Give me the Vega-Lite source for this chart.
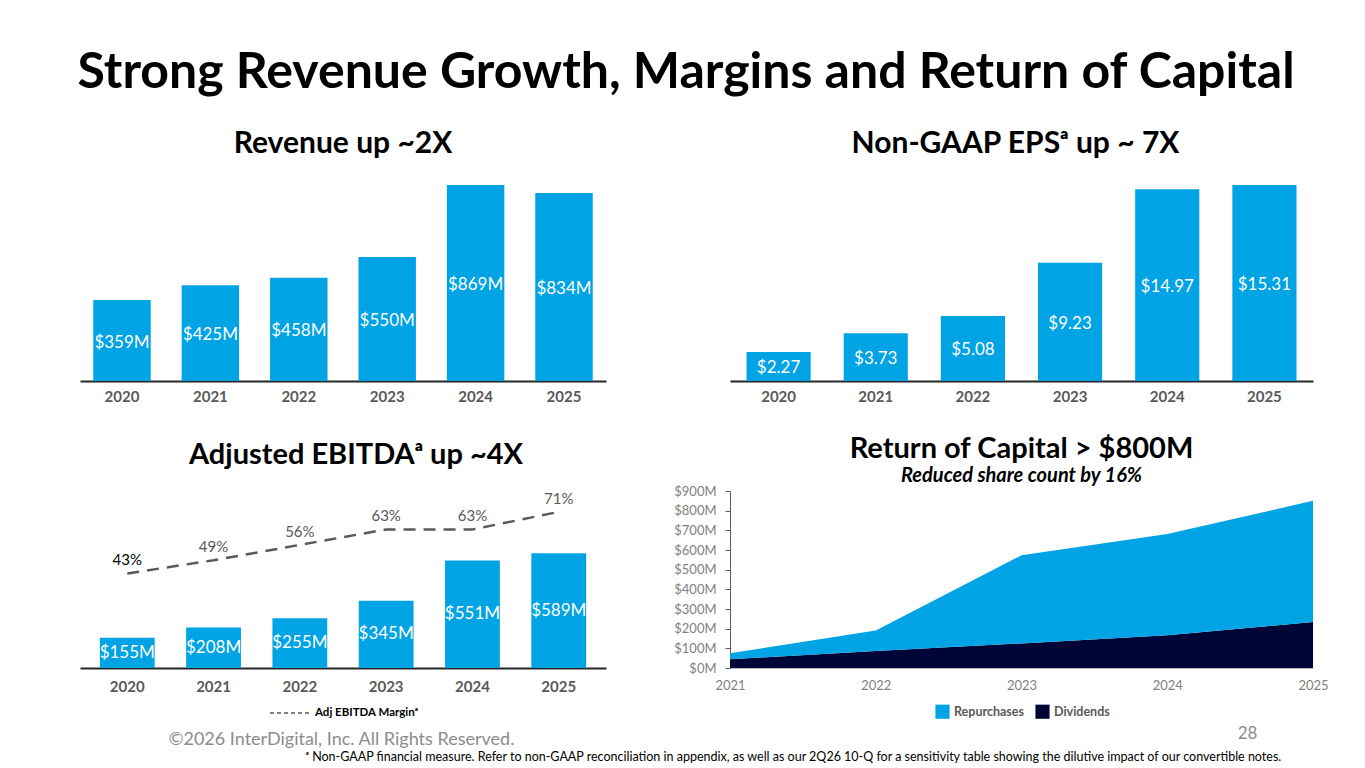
{
  "$schema": "https://vega.github.io/schema/vega-lite/v6.json",
  "background": "white",
  "padding": {"left": 77, "top": 48, "right": 20, "bottom": 5},
  "bounds": "flush",
  "columns": 2,
  "spacing": {"row": 110, "column": 124},
  "config": {
    "font": "Lato",
    "view": {"stroke": null},
    "title": {"font": "Lato", "fontWeight": "bold", "color": "black", "anchor": "middle"},
    "axisX": {
      "domainColor": "#262626", "domainWidth": 2, "ticks": false, "labelAngle": 0,
      "labelFont": "Lato", "labelFontWeight": "bold", "labelFontSize": 15,
      "labelColor": "#595959", "labelPadding": 8, "grid": false
    }
  },
  "title": {
    "text": "Strong Revenue Growth, Margins and Return of Capital",
    "fontSize": 50, "offset": 31, "dx": -18
  },
  "concat": [
    {
      "width": 526, "height": 196,
      "title": {"text": "Revenue up ~2X", "fontSize": 30, "offset": 26},
      "data": {"values": [
        {"year": "2020", "revenue": 359, "label": "$359M"},
        {"year": "2021", "revenue": 425, "label": "$425M"},
        {"year": "2022", "revenue": 458, "label": "$458M"},
        {"year": "2023", "revenue": 550, "label": "$550M"},
        {"year": "2024", "revenue": 869, "label": "$869M"},
        {"year": "2025", "revenue": 834, "label": "$834M"}
      ]},
      "encoding": {
        "x": {"field": "year", "type": "nominal", "title": null, "scale": {"paddingInner": 0.35, "paddingOuter": 0.15}}
      },
      "layer": [
        {
          "mark": {"type": "bar", "color": "#00A3E4"},
          "encoding": {"y": {"field": "revenue", "type": "quantitative", "scale": {"domain": [0, 869]}, "axis": null}}
        },
        {
          "mark": {"type": "text", "color": "white", "fontSize": 17, "dy": 2},
          "encoding": {
            "y": {"field": "revenue", "type": "quantitative", "scale": {"domain": [0, 1738]}, "axis": null},
            "text": {"field": "label"}
          }
        }
      ],
      "resolve": {"scale": {"y": "independent"}}
    },
    {
      "width": 583, "height": 196,
      "title": {"text": "Non-GAAP EPSᵃ up ~ 7X", "fontSize": 30, "offset": 26, "dx": -6},
      "data": {"values": [
        {"year": "2020", "eps": 2.27, "label": "$2.27"},
        {"year": "2021", "eps": 3.73, "label": "$3.73"},
        {"year": "2022", "eps": 5.08, "label": "$5.08"},
        {"year": "2023", "eps": 9.23, "label": "$9.23"},
        {"year": "2024", "eps": 14.97, "label": "$14.97"},
        {"year": "2025", "eps": 15.31, "label": "$15.31"}
      ]},
      "encoding": {
        "x": {"field": "year", "type": "nominal", "title": null, "scale": {"paddingInner": 0.34, "paddingOuter": 0.17}}
      },
      "layer": [
        {
          "mark": {"type": "bar", "color": "#00A3E4"},
          "encoding": {"y": {"field": "eps", "type": "quantitative", "scale": {"domain": [0, 15.31]}, "axis": null}}
        },
        {
          "mark": {"type": "text", "color": "white", "fontSize": 17, "dy": 2},
          "encoding": {
            "y": {"field": "eps", "type": "quantitative", "scale": {"domain": [0, 30.62]}, "axis": null},
            "text": {"field": "label"}
          }
        }
      ],
      "resolve": {"scale": {"y": "independent"}}
    },
    {
      "width": 526, "height": 177,
      "title": {"text": "Adjusted EBITDAᵃ up ~4X", "fontSize": 29, "offset": 21, "dx": 13},
      "data": {"values": [
        {"year": "2020", "ebitda": 155, "label": "$155M", "margin": 43, "mlabel": "43%"},
        {"year": "2021", "ebitda": 208, "label": "$208M", "margin": 49, "mlabel": "49%"},
        {"year": "2022", "ebitda": 255, "label": "$255M", "margin": 56, "mlabel": "56%"},
        {"year": "2023", "ebitda": 345, "label": "$345M", "margin": 63, "mlabel": "63%"},
        {"year": "2024", "ebitda": 551, "label": "$551M", "margin": 63, "mlabel": "63%"},
        {"year": "2025", "ebitda": 589, "label": "$589M", "margin": 71, "mlabel": "71%"}
      ]},
      "encoding": {
        "x": {
          "field": "year", "type": "nominal",
          "scale": {"paddingInner": 0.365, "paddingOuter": 0.23},
          "axis": {
            "labelPadding": 11,
            "title": "©2026 InterDigital, Inc. All Rights Reserved.",
            "titleX": 88, "titleY": 76, "titleAlign": "left", "titleBaseline": "alphabetic",
            "titleFontSize": 18, "titleFontWeight": "normal", "titleColor": "#8c8c8c"
          }
        }
      },
      "layer": [
        {
          "mark": {"type": "bar", "color": "#00A3E4"},
          "encoding": {"y": {"field": "ebitda", "type": "quantitative", "scale": {"domain": [0, 908]}, "axis": null}}
        },
        {
          "mark": {"type": "text", "color": "white", "fontSize": 17},
          "encoding": {
            "y": {"field": "ebitda", "type": "quantitative", "scale": {"domain": [0, 1816]}, "axis": null},
            "text": {"field": "label"}
          }
        },
        {
          "mark": {"type": "line", "strokeWidth": 2.5, "strokeDash": [12, 8]},
          "encoding": {
            "y": {"field": "margin", "type": "quantitative", "scale": {"domain": [0, 80.5]}, "axis": null},
            "color": {
              "datum": "Adj EBITDA Marginᵃ",
              "scale": {"range": ["#595959"]},
              "legend": {
                "orient": "none", "legendX": 189, "legendY": 200, "title": null,
                "symbolType": "stroke", "symbolDash": [4, 3], "symbolSize": 1764,
                "symbolStrokeWidth": 1.5, "symbolStrokeColor": "black", "labelFontSize": 11.5, "labelFontWeight": "bold",
                "labelColor": "black", "labelOffset": 2
              }
            }
          }
        },
        {
          "mark": {"type": "text", "fontSize": 15, "dy": -13},
          "encoding": {
            "y": {"field": "margin", "type": "quantitative", "scale": {"domain": [0, 80.5]}, "axis": null},
            "text": {"field": "mlabel"},
            "color": {"condition": {"test": "datum.year == '2020'", "value": "black"}, "value": "#595959"}
          }
        }
      ],
      "resolve": {"scale": {"y": "independent"}}
    },
    {
      "width": 583, "height": 177,
      "title": {
        "text": "Return of Capital > $800M", "fontSize": 29, "offset": -1,
        "subtitle": "Reduced share count by 16%", "subtitleFont": "Lato", "subtitleFontSize": 20,
        "subtitleFontWeight": "bold", "subtitleFontStyle": "italic", "subtitleColor": "black",
        "subtitlePadding": 2
      },
      "data": {"values": [
        {"year": 2021, "type": "Dividends", "amount": 45},
        {"year": 2022, "type": "Dividends", "amount": 86},
        {"year": 2023, "type": "Dividends", "amount": 125},
        {"year": 2024, "type": "Dividends", "amount": 166},
        {"year": 2025, "type": "Dividends", "amount": 234},
        {"year": 2021, "type": "Repurchases", "amount": 30},
        {"year": 2022, "type": "Repurchases", "amount": 105},
        {"year": 2023, "type": "Repurchases", "amount": 448},
        {"year": 2024, "type": "Repurchases", "amount": 515},
        {"year": 2025, "type": "Repurchases", "amount": 616}
      ]},
      "mark": {"type": "area"},
      "encoding": {
        "x": {
          "field": "year", "type": "quantitative",
          "scale": {"domain": [2021, 2025], "nice": false, "zero": false},
          "axis": {
            "values": [2021, 2022, 2023, 2024, 2025], "format": "d", "labelFlush": false,
            "labelFontWeight": "normal", "labelFontSize": 13, "labelColor": "#7f7f7f",
            "labelPadding": 11, "domainColor": "#bfbfbf", "domainWidth": 1,
            "title": "28", "titleX": 517, "titleY": 65, "titleBaseline": "middle",
            "titleAlign": "center", "titleFontSize": 17, "titleFontWeight": "normal", "titleColor": "#8c8c8c"
          }
        },
        "y": {
          "field": "amount", "type": "quantitative", "stack": "zero",
          "scale": {"domain": [0, 900], "nice": false},
          "axis": {
            "values": [0, 100, 200, 300, 400, 500, 600, 700, 800, 900],
            "labelExpr": "'$' + datum.value + 'M'", "grid": false,
            "ticks": true, "tickSize": 5, "tickColor": "#595959", "domainColor": "#595959",
            "labelColor": "#7f7f7f", "labelFontSize": 13, "labelPadding": 9,
            "title": "ᵃ Non-GAAP financial measure. Refer to non-GAAP reconciliation in appendix, as well as our 2Q26 10-Q for a sensitivity table showing the dilutive impact of our convertible notes.",
            "titleAngle": 0, "titleX": -425, "titleY": 269, "titleAlign": "left", "titleBaseline": "alphabetic",
            "titleFontSize": 12.5, "titleFontWeight": "normal", "titleColor": "black"
          }
        },
        "color": {
          "field": "type", "type": "nominal",
          "scale": {"domain": ["Repurchases", "Dividends"], "range": ["#00A3E4", "#000538"]},
          "legend": {
            "orient": "none", "legendX": 205, "legendY": 213, "direction": "horizontal", "title": null,
            "symbolType": "square", "symbolSize": 200, "symbolStrokeWidth": 0,
            "labelFontSize": 12.5, "labelFontWeight": "bold", "labelColor": "#595959", "columnPadding": 10
          }
        },
        "order": {"field": "type", "sort": "ascending"}
      }
    }
  ],
  "resolve": {"scale": {"color": "independent"}, "legend": {"color": "independent"}}
}
